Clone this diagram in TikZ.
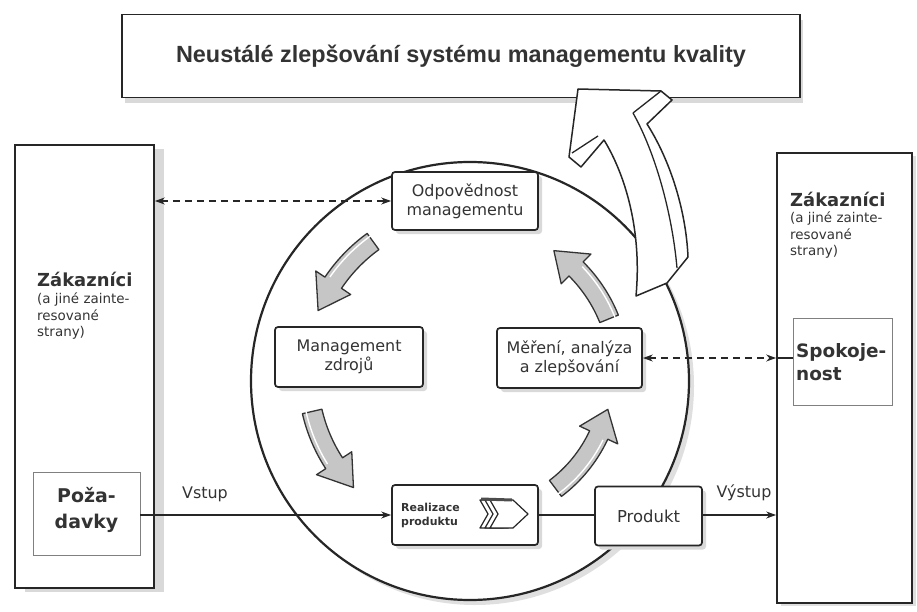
\documentclass[tikz,border=0pt]{standalone}
\usepackage{fontspec}
\setmainfont{DejaVu Sans}
\newfontfamily\titlefont{Liberation Sans}
\usetikzlibrary{arrows.meta,shadows}

% one drawing unit = one point of the 917 x 612 canvas, y pointing down
\newcommand\flowarrow[3]{% start angle, end angle, radius (angles run clockwise)
  \filldraw[flowband]
    ({#1}:{#3+10}) arc[start angle={#1}, end angle={#2+11}, radius={#3+10}]
    -- ({#2+11}:{#3+21}) -- ({#2}:{#3}) -- ({#2+11}:{#3-21})
    -- ({#2+11}:{#3-10}) arc[start angle={#2+11}, end angle={#1}, radius={#3-10}]
    -- cycle;
  \draw[white, line width=1.4bp]
    ({#1+1}:{#3+6}) arc[start angle={#1+1}, end angle={#2+12}, radius={#3+6}];
}

\begin{document}
\begin{tikzpicture}[x=1bp, y=-1bp,
  bigbox/.style={draw=black!85, line width=1.7bp, fill=white, inner sep=0pt},
  procbox/.style={draw=black!85, line width=1.7bp, rounded corners=3bp, fill=white,
    inner sep=0pt, align=center, text=black!80,
    drop shadow={shadow xshift=4bp, shadow yshift=-4bp, fill=gray!30, opacity=1}},
  procfont/.style={font=\fontsize{16}{19}\selectfont},
  thinbox/.style={draw=black!50, line width=0.8bp, fill=white, inner sep=0pt},
  head/.style={font=\bfseries\fontsize{18}{21}\selectfont, text=black!80, inner sep=0pt},
  small/.style={font=\fontsize{13.5}{16.5}\selectfont, text=black!80, inner sep=0pt, align=left},
  flowlabel/.style={font=\fontsize{16}{19}\selectfont, text=black!80, inner sep=0pt},
  infoflow/.style={line width=1.5bp, draw=black!85, dash pattern=on 7bp off 5bp,
    {Stealth[length=10bp,width=7bp]}-{Stealth[length=10bp,width=7bp]}},
  flow/.style={line width=1.4bp, draw=black!85},
  flowband/.style={fill=gray!45, draw=black!80, line width=1.3bp, line join=round},
]
\useasboundingbox (0,0) rectangle (917,612);

% improvement banner
\node[bigbox, minimum width=678bp, minimum height=83bp,
  drop shadow={shadow xshift=3bp, shadow yshift=-6bp, fill=gray!30, opacity=1},
  font=\titlefont\bfseries\fontsize{23.5}{26}\selectfont, text=black!80]
  (banner) at (461,56) {Neustálé zlepšování systému managementu kvality};

% customers on the input side
\node[bigbox, minimum width=139bp, minimum height=443bp,
  drop shadow={shadow xshift=10bp, shadow yshift=-4bp, fill=gray!30, opacity=1}]
  (lbox) at (84.5,366.5) {};
\node[head, anchor=west] (lcust) at (37,279) {Zákazníci};
\node[small, anchor=north west] (lcustsub) at (37,293) {(a jiné zainte-\\resované\\strany)};
\node[thinbox, minimum width=107bp, minimum height=83bp] (req) at (86.5,514) {};
\node[head, font=\bfseries\fontsize{19}{27}\selectfont, align=center] (reqtxt) at (86.5,510) {Poža-\\davky};

% customers on the output side
\node[bigbox, minimum width=135bp, minimum height=450bp,
  drop shadow={shadow xshift=4bp, shadow yshift=-3bp, fill=gray!25, opacity=1}]
  (rbox) at (844.5,378) {};
\node[head, anchor=west] (rcust) at (790,199) {Zákazníci};
\node[small, anchor=north west] (rcustsub) at (790,212) {(a jiné zainte-\\resované\\strany)};
\node[thinbox, minimum width=99bp, minimum height=87bp] (sat) at (842.5,362) {};
\node[head, font=\bfseries\fontsize{18.5}{23}\selectfont, anchor=west, align=left] (sattxt) at (796,362) {Spokoje-\\nost};

% process cycle
\node[circle, draw=black!85, line width=2.2bp, fill=white, minimum size=438bp, inner sep=0pt,
  drop shadow={shadow xshift=5bp, shadow yshift=-5bp, fill=gray!25, opacity=1}]
  (cycle) at (470,381) {};

% continual improvement arrow leaving the cycle
\draw[line width=1.5bp, draw=black!85, fill=white, line join=round]
  (636,296) -- (667,283) -- (688,257)
  .. controls (686,210) and (670,160) .. (647,124)
  -- (672,100) -- (661,91) -- (578,89) -- (569,157) -- (581,167) -- (604,140)
  .. controls (626,176) and (642,232) .. (636,296) -- cycle;
\draw[line width=1.3bp, draw=black!85] (633,113) -- (661,91);
\draw[line width=1.3bp, draw=black!85] (633,113) .. controls (655,152) and (672,212) .. (677,268);
\draw[line width=1.3bp, draw=black!85] (572,153) -- (598,136);

% the four processes
\node[procbox, procfont, minimum width=146bp, minimum height=58bp] (resp) at (465,201)
  {Odpovědnost\\managementu};
\node[procbox, procfont, minimum width=148bp, minimum height=60bp] (res) at (349,357)
  {Management\\zdrojů};
\node[procbox, procfont, minimum width=145bp, minimum height=60bp] (meas) at (569.5,358)
  {Měření, analýza\\a zlepšování};
\node[procbox, minimum width=146bp, minimum height=60bp] (real) at (465,515) {};
\node[font=\bfseries\fontsize{11}{14}\selectfont, text=black!80, anchor=west, align=left, inner sep=0pt]
  (realtxt) at (401,515) {Realizace\\produktu};

% chevron symbol inside product realization
\foreach \dx in {-10,-5} {
  \draw[line width=1.2bp, draw=black!85, fill=white, line join=round, xshift=\dx bp]
    (490,500) -- (513,500) -- (528,514) -- (513,528) -- (490,528) -- (498,514) -- cycle;
}
\draw[line width=1.2bp, draw=black!85, fill=white, line join=round]
  (490,500) -- (513,500) -- (528,514) -- (513,528) -- (490,528) -- (498,514) -- cycle;
\draw[line width=3bp, draw=black!70] (481,499) -- (512,500);

\node[procbox, font=\fontsize{16.5}{19}\selectfont, minimum width=107bp, minimum height=59bp]
  (prod) at (648.5,516) {Produkt};

% cycle of the processes
\begin{scope}[shift={(470,375)}]
  \flowarrow{234}{203}{165}
  \flowarrow{167}{136}{162}
  \flowarrow{53}{14}{142}
  \flowarrow{-22}{-56}{150}
\end{scope}

% information flows
\draw[infoflow] (resp.west -| lbox.east) -- (resp.west);
\draw[infoflow] (meas.east) -- (meas.east -| rbox.west);
\draw[flow] (meas.east -| rbox.west) -- (meas.east -| sat.west);

% material flow
\draw[flow, -{Stealth[length=10bp,width=7bp]}] (req.east |- real.west) -- (real.west);
\draw[flow] (real.east) -- (prod.west |- real.east);
\draw[flow, -{Stealth[length=10bp,width=7bp]}] (prod.east |- real.east) -- (rbox.west |- real.east);
\node[flowlabel] (in) at (205,494) {Vstup};
\node[flowlabel] (out) at (744,493) {Výstup};
\end{tikzpicture}
\end{document}
